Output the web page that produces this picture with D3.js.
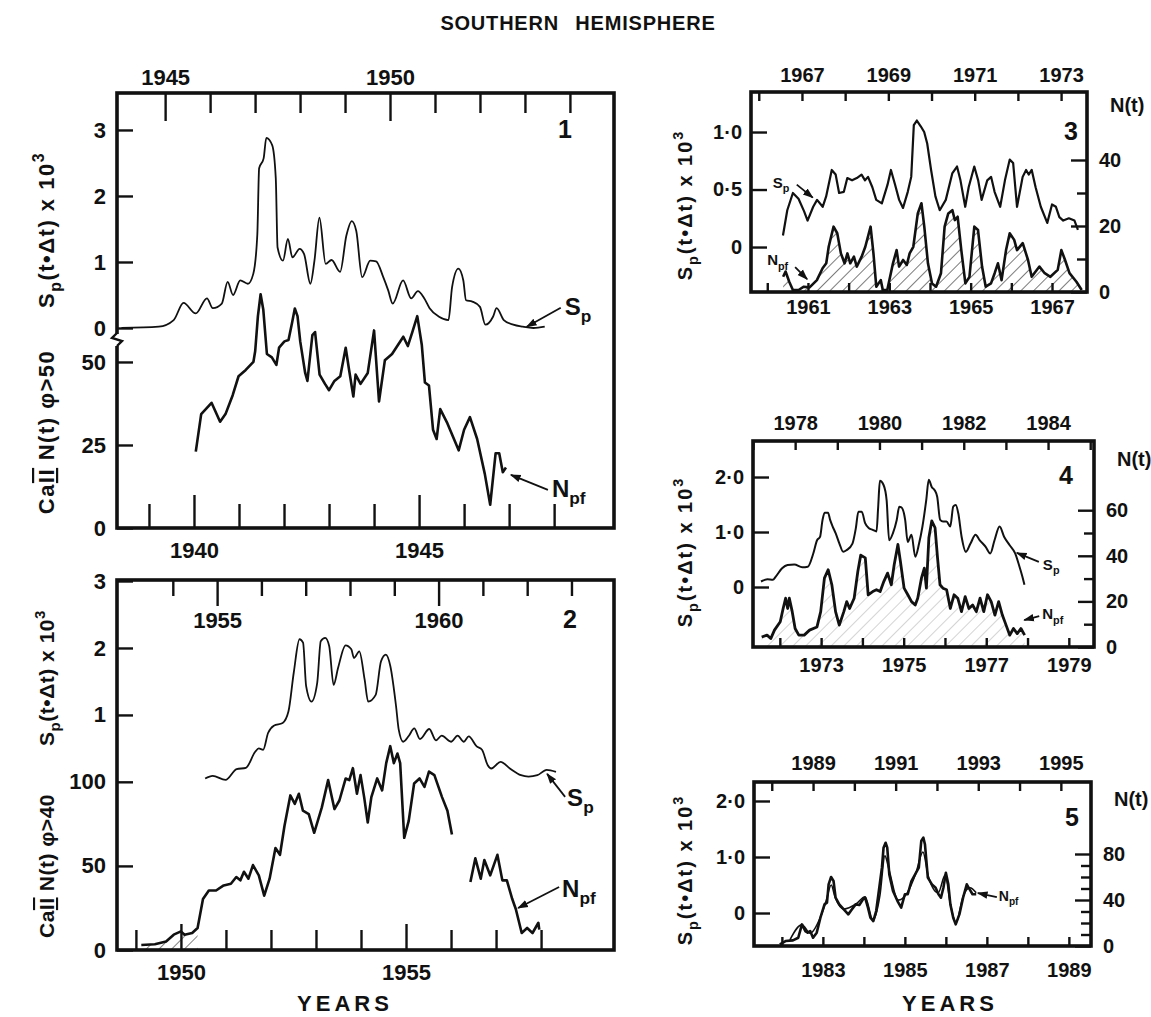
<!DOCTYPE html>
<html>
<head>
<meta charset="UTF-8">
<title>Southern Hemisphere</title>
<script src="https://cdn.jsdelivr.net/npm/d3@7"></script>
<style>
  body { margin: 0; background: #fff; }
  text { font-family: "Liberation Sans", Arial, sans-serif; font-weight: bold; fill: #111; }
</style>
</head>
<body>
<script>
var FONT = "Liberation Sans, Arial, sans-serif";

// ---- panel 1 : Sp on top years, N(t) on bottom years
var p1TopYears = [1945, 1946, 1947, 1948, 1949, 1950, 1951, 1952, 1953, 1954];
var p1TopLabels = [1945, 1950];
var p1BotYears = [1939, 1940, 1941, 1942, 1943, 1944, 1945, 1946, 1947, 1948];
var p1BotLabels = [1940, 1945];
var p1SpTicks = [0, 1, 2, 3];
var p1NTicks = [0, 25, 50];
var p1Sp = [[1944.03,0],[1944.86,0.02],[1945.19,0.12],[1945.41,0.38],[1945.68,0.22],[1945.93,0.45],[1946.06,0.30],[1946.26,0.37],[1946.39,0.70],[1946.51,0.50],[1946.67,0.72],[1946.84,0.67],[1946.96,0.82],[1947.05,1.42],[1947.09,2.42],[1947.19,2.57],[1947.25,2.88],[1947.38,2.77],[1947.46,2.27],[1947.50,1.22],[1947.62,1.02],[1947.73,1.35],[1947.83,1.07],[1947.99,1.20],[1948.09,1.12],[1948.23,0.67],[1948.32,1.02],[1948.43,1.67],[1948.57,0.97],[1948.70,1.03],[1948.89,0.85],[1949.03,1.40],[1949.15,1.62],[1949.25,1.47],[1949.38,0.77],[1949.56,1.02],[1949.69,1.01],[1949.85,0.77],[1949.96,0.57],[1950.06,0.37],[1950.29,0.72],[1950.47,0.45],[1950.62,0.56],[1950.76,0.45],[1950.88,0.30],[1951.09,0.17],[1951.30,0.12],[1951.38,0.62],[1951.52,0.90],[1951.63,0.72],[1951.69,0.42],[1951.83,0.40],[1952.00,0.32],[1952.12,0.05],[1952.29,0.17],[1952.37,0.30],[1952.53,0.12],[1952.74,0.05],[1952.95,0.02],[1953.19,0.00],[1953.44,0.02]];
var p1N = [[1940.04,23],[1940.16,34.3],[1940.39,37.7],[1940.58,32],[1940.70,34.3],[1940.86,40],[1940.99,45.7],[1941.15,47.6],[1941.32,50],[1941.36,53.3],[1941.42,63.8],[1941.48,70.4],[1941.54,65.7],[1941.62,52.4],[1941.73,51.4],[1941.83,49.1],[1941.89,54.3],[1942.01,56.2],[1942.10,56.6],[1942.18,61.9],[1942.24,66.1],[1942.30,63.8],[1942.36,56.2],[1942.47,46.7],[1942.52,44.3],[1942.63,58.1],[1942.69,59],[1942.79,46.2],[1942.91,43.4],[1943.00,41.5],[1943.12,44.3],[1943.25,45.7],[1943.37,54.3],[1943.45,47.2],[1943.54,39.6],[1943.59,46.2],[1943.70,43.4],[1943.86,46.7],[1944.00,59.5],[1944.11,38.1],[1944.24,50.5],[1944.40,52.4],[1944.65,57.6],[1944.75,54.8],[1944.85,59],[1944.96,63.8],[1945.06,55.2],[1945.13,43.8],[1945.22,42.9],[1945.31,29.6],[1945.39,26.8],[1945.47,35.8],[1945.63,31.5],[1945.88,23.4],[1946.00,29.6],[1946.13,33.4],[1946.29,26.8],[1946.46,16.3],[1946.58,7],[1946.70,22.5],[1946.78,22.5],[1946.86,16.8],[1946.93,18.2]];

// ---- panel 2
var p2TopYears = [1954, 1955, 1956, 1957, 1958, 1959, 1960, 1961, 1962, 1963];
var p2TopLabels = [1955, 1960];
var p2BotYears = [1949, 1950, 1951, 1952, 1953, 1954, 1955, 1956, 1957, 1958];
var p2BotLabels = [1950, 1955];
var p2SpTicks = [1, 2, 3];
var p2NTicks = [0, 50, 100];
var p2Sp = [[1954.73,0.05],[1954.90,0.09],[1955.19,0.03],[1955.44,0.19],[1955.65,0.21],[1955.86,0.45],[1955.94,0.50],[1956.04,0.48],[1956.15,0.73],[1956.28,0.84],[1956.48,0.88],[1956.61,1.05],[1956.73,1.63],[1956.86,2.13],[1956.94,2.08],[1957.01,1.43],[1957.13,1.20],[1957.26,1.48],[1957.34,2.10],[1957.44,2.15],[1957.53,2.03],[1957.63,1.45],[1957.73,1.70],[1957.90,2.04],[1958.03,1.98],[1958.09,1.85],[1958.21,1.95],[1958.33,1.53],[1958.41,1.20],[1958.58,1.30],[1958.70,1.80],[1958.81,1.90],[1958.91,1.73],[1959.04,1.13],[1959.10,0.78],[1959.20,0.60],[1959.33,0.69],[1959.45,0.80],[1959.58,0.64],[1959.79,0.79],[1959.94,0.62],[1960.07,0.69],[1960.28,0.60],[1960.43,0.69],[1960.57,0.60],[1960.68,0.68],[1960.86,0.53],[1960.98,0.48],[1961.11,0.25],[1961.19,0.20],[1961.40,0.30],[1961.61,0.20],[1961.86,0.10],[1962.03,0.08],[1962.23,0.10],[1962.44,0.18],[1962.65,0.15]];
var p2Na = [[1949.12,3],[1949.42,3.4],[1949.67,5.1],[1949.84,9.1],[1950.00,11.1],[1950.08,9.1],[1950.25,10.1],[1950.37,13.1],[1950.49,30.3],[1950.62,35.4],[1950.78,35.4],[1950.95,38.4],[1951.11,39.4],[1951.23,43.4],[1951.32,41.4],[1951.40,46.5],[1951.50,42.4],[1951.60,50.5],[1951.73,44.4],[1951.85,32.3],[1951.97,42.4],[1952.10,60.6],[1952.20,56.6],[1952.30,73.7],[1952.43,91.9],[1952.53,86.9],[1952.62,92.9],[1952.71,82.8],[1952.84,80.8],[1952.96,69.7],[1953.13,84.8],[1953.27,101],[1953.41,83.8],[1953.52,88.9],[1953.66,102],[1953.74,101],[1953.82,108.1],[1953.91,92.9],[1953.99,104],[1954.07,90.9],[1954.15,75.8],[1954.23,90.9],[1954.36,102],[1954.47,94.9],[1954.56,111.1],[1954.65,121.2],[1954.73,111.1],[1954.81,116.8],[1954.87,111.1],[1954.96,66.7],[1955.06,76.8],[1955.18,99],[1955.30,102],[1955.41,97],[1955.51,106.1],[1955.63,104],[1955.80,90.9],[1955.92,82.8],[1956.02,68.7]];
var p2Nb = [[1956.43,40.4],[1956.54,54.5],[1956.66,42.4],[1956.74,53.5],[1956.87,44.4],[1957.03,56.6],[1957.14,41.4],[1957.24,41.4],[1957.36,30.3],[1957.44,24.2],[1957.57,10.1],[1957.69,13.1],[1957.81,10.1],[1957.94,16.2],[1957.96,12.1]];

// ---- panel 3
var p3TopYears = [1966, 1967, 1968, 1969, 1970, 1971, 1972, 1973];
var p3TopLabels = [1967, 1969, 1971, 1973];
var p3BotYears = [1960, 1961, 1962, 1963, 1964, 1965, 1966, 1967];
var p3BotLabels = [1961, 1963, 1965, 1967];
var p3SpTicks = [0, 0.5, 1.0];
var p3NTicks = [0, 10, 20, 30, 40];
var p3NLabels = [0, 20, 40];
var p3Sp = [[1966.56,0.10],[1966.66,0.32],[1966.79,0.47],[1966.92,0.42],[1967.05,0.31],[1967.13,0.23],[1967.26,0.35],[1967.35,0.41],[1967.48,0.35],[1967.56,0.44],[1967.69,0.67],[1967.78,0.63],[1967.86,0.47],[1967.97,0.48],[1968.05,0.60],[1968.16,0.58],[1968.27,0.60],[1968.38,0.63],[1968.46,0.58],[1968.53,0.61],[1968.63,0.52],[1968.72,0.41],[1968.85,0.38],[1968.98,0.54],[1969.06,0.67],[1969.15,0.55],[1969.25,0.41],[1969.34,0.34],[1969.45,0.48],[1969.53,0.61],[1969.59,1.06],[1969.66,1.10],[1969.75,1.05],[1969.83,1.00],[1969.90,0.90],[1969.99,0.67],[1970.09,0.44],[1970.19,0.32],[1970.33,0.41],[1970.48,0.64],[1970.59,0.70],[1970.67,0.58],[1970.78,0.35],[1970.86,0.52],[1970.99,0.70],[1971.08,0.58],[1971.16,0.41],[1971.29,0.58],[1971.38,0.61],[1971.46,0.48],[1971.59,0.35],[1971.70,0.58],[1971.81,0.76],[1971.89,0.73],[1971.98,0.35],[1972.11,0.61],[1972.19,0.67],[1972.25,0.63],[1972.32,0.67],[1972.41,0.52],[1972.53,0.35],[1972.68,0.21],[1972.79,0.37],[1972.88,0.35],[1972.96,0.26],[1973.05,0.23],[1973.18,0.25],[1973.31,0.23],[1973.39,0.15]];
var p3N = [[1960.39,4.6],[1960.45,6.2],[1960.54,3.1],[1960.63,0.6],[1960.77,0.6],[1960.90,1.6],[1961.04,1.4],[1961.22,3.6],[1961.36,7.2],[1961.45,8.7],[1961.51,13.7],[1961.63,19.8],[1961.72,17.8],[1961.81,11.7],[1961.90,8.7],[1961.97,11.7],[1962.04,8.7],[1962.13,10.7],[1962.20,7.7],[1962.32,10.7],[1962.41,13.7],[1962.54,19.8],[1962.61,11.7],[1962.68,1.6],[1962.79,3.6],[1962.84,0.6],[1962.95,0.6],[1963.09,8.7],[1963.18,12.7],[1963.24,7.7],[1963.34,9.7],[1963.43,8.2],[1963.50,11.7],[1963.59,13.7],[1963.70,23.8],[1963.79,26.9],[1963.86,19.8],[1963.95,8.7],[1964.05,2.6],[1964.15,1.6],[1964.27,5.7],[1964.36,19.8],[1964.45,23.8],[1964.55,24.8],[1964.61,21.8],[1964.68,22.8],[1964.77,12.7],[1964.87,2.6],[1964.97,4.6],[1965.09,19.8],[1965.18,18.8],[1965.28,7.7],[1965.37,1.6],[1965.50,2.6],[1965.59,5.7],[1965.67,8.7],[1965.76,3.6],[1965.87,12.7],[1965.96,17.8],[1966.07,15.8],[1966.14,12.7],[1966.28,14.8],[1966.41,9.7],[1966.50,4.6],[1966.69,7.7],[1966.82,5.7],[1966.96,4.6],[1967.14,6.7],[1967.23,12.7],[1967.32,9.7],[1967.43,5.7],[1967.60,3.1],[1967.73,0.6]];

// ---- panel 4
var p4TopYears = [1977, 1978, 1979, 1980, 1981, 1982, 1983, 1984, 1985];
var p4TopLabels = [1978, 1980, 1982, 1984];
var p4BotYears = [1972, 1973, 1974, 1975, 1976, 1977, 1978, 1979];
var p4BotLabels = [1973, 1975, 1977, 1979];
var p4SpTicks = [0, 1.0, 2.0];
var p4NTicks = [0, 10, 20, 30, 40, 50, 60];
var p4NLabels = [0, 20, 40, 60];
var p4Sp = [[1977.19,0.10],[1977.34,0.14],[1977.47,0.13],[1977.54,0.19],[1977.69,0.34],[1977.82,0.40],[1977.98,0.41],[1978.17,0.36],[1978.30,0.37],[1978.43,0.61],[1978.52,0.85],[1978.59,0.91],[1978.65,1.22],[1978.70,1.35],[1978.78,1.35],[1978.83,1.22],[1978.89,1.10],[1978.96,0.98],[1979.05,0.79],[1979.14,0.64],[1979.22,0.67],[1979.36,0.79],[1979.44,1.07],[1979.50,1.37],[1979.58,1.37],[1979.66,1.16],[1979.75,1.07],[1979.84,1.04],[1979.93,1.01],[1979.97,1.46],[1980.01,1.93],[1980.10,1.85],[1980.17,1.58],[1980.23,0.85],[1980.32,0.98],[1980.41,1.22],[1980.47,1.46],[1980.52,1.45],[1980.61,1.22],[1980.67,0.82],[1980.76,0.95],[1980.85,0.55],[1980.94,0.79],[1981.02,1.10],[1981.11,1.58],[1981.17,1.95],[1981.24,1.82],[1981.31,1.76],[1981.37,1.64],[1981.44,1.22],[1981.51,1.19],[1981.59,1.19],[1981.68,1.10],[1981.75,1.46],[1981.81,1.49],[1981.87,1.34],[1981.95,0.91],[1982.05,0.64],[1982.16,0.79],[1982.28,0.95],[1982.38,0.85],[1982.52,0.73],[1982.63,0.61],[1982.73,0.85],[1982.85,1.10],[1982.96,0.91],[1983.09,0.76],[1983.22,0.61],[1983.31,0.40],[1983.39,0.19],[1983.44,0.04]];
var p4N = [[1971.56,4.4],[1971.69,5.2],[1971.78,3.7],[1971.87,7.4],[1972.01,11.1],[1972.08,16.9],[1972.14,21.4],[1972.19,16.9],[1972.23,21.4],[1972.30,15.5],[1972.37,8.1],[1972.46,5.2],[1972.59,5.2],[1972.72,7.4],[1972.90,8.8],[1972.99,15.5],[1973.08,30.2],[1973.17,33.9],[1973.26,27.3],[1973.35,15.5],[1973.44,9.6],[1973.55,15.5],[1973.62,19.9],[1973.69,16.9],[1973.80,21.4],[1973.89,33.2],[1973.96,40.3],[1974.07,39.1],[1974.14,22.9],[1974.25,24.3],[1974.34,25.1],[1974.43,24.3],[1974.52,28.8],[1974.61,32.4],[1974.70,27.3],[1974.77,36.1],[1974.86,45],[1974.92,37.6],[1975.01,25.8],[1975.10,22.9],[1975.19,19.9],[1975.28,18.4],[1975.34,21.4],[1975.43,30.2],[1975.50,34.6],[1975.55,25.8],[1975.61,47.9],[1975.68,55.3],[1975.76,52.3],[1975.82,39.1],[1975.88,27.3],[1975.95,25.8],[1976.04,25.1],[1976.13,16.9],[1976.22,22.9],[1976.31,21.4],[1976.40,15.5],[1976.49,22.1],[1976.58,16.9],[1976.67,18.4],[1976.76,15.5],[1976.85,21.4],[1976.94,15.5],[1977.03,22.9],[1977.12,19.9],[1977.21,14],[1977.30,19.9],[1977.39,14],[1977.48,9.6],[1977.57,5.2],[1977.66,8.1],[1977.75,5.9],[1977.84,8.1],[1977.93,5.2]];

// ---- panel 5
var p5TopYears = [1988, 1989, 1990, 1991, 1992, 1993, 1994, 1995];
var p5TopLabels = [1989, 1991, 1993, 1995];
var p5BotYears = [1982, 1983, 1984, 1985, 1986, 1987, 1988, 1989];
var p5BotLabels = [1983, 1985, 1987, 1989];
var p5SpTicks = [0, 1.0, 2.0];
var p5NTicks = [0, 10, 20, 30, 40, 50, 60, 70, 80];
var p5NLabels = [0, 40, 80];
var p5Sp = [[1988.44,-0.48],[1988.73,-0.21],[1988.93,-0.36],[1989.17,-0.09],[1989.31,0.20],[1989.44,0.50],[1989.53,0.29],[1989.75,0.07],[1990.04,0.16],[1990.26,0.29],[1990.45,-0.13],[1990.62,0.32],[1990.74,1.02],[1990.84,0.77],[1991.06,0.23],[1991.28,0.36],[1991.49,0.71],[1991.66,1.09],[1991.79,0.66],[1992.03,0.36],[1992.20,0.68],[1992.32,0.18],[1992.46,-0.18],[1992.63,0.29],[1992.80,0.45],[1992.95,0.36]];
var p5N = [[1981.95,1.4],[1982.09,4.3],[1982.27,4.9],[1982.40,7.2],[1982.49,18.8],[1982.57,13],[1982.63,11.6],[1982.69,13],[1982.76,7.2],[1982.85,11.6],[1982.94,24.6],[1983.04,36.2],[1983.10,37.7],[1983.14,53.6],[1983.20,60],[1983.26,56.5],[1983.31,42],[1983.40,36.2],[1983.51,31.9],[1983.62,27.5],[1983.71,31.9],[1983.80,36.2],[1983.89,35.7],[1983.98,40.6],[1984.03,42],[1984.10,33.3],[1984.16,24.6],[1984.23,21.7],[1984.30,30.4],[1984.37,49.3],[1984.44,68.1],[1984.48,85.5],[1984.53,89.8],[1984.57,85.5],[1984.62,62.3],[1984.71,47.8],[1984.82,39.1],[1984.91,33.3],[1985.00,45],[1985.07,45],[1985.16,56.5],[1985.25,62.3],[1985.34,68.1],[1985.40,91.3],[1985.45,94.2],[1985.49,88.4],[1985.56,59.4],[1985.66,53.6],[1985.75,50.7],[1985.82,45],[1985.88,42],[1985.94,50.7],[1986.00,63.7],[1986.06,53.6],[1986.11,36.2],[1986.18,24.6],[1986.24,18.8],[1986.33,27.5],[1986.42,42],[1986.51,53.6],[1986.58,49.3],[1986.65,45],[1986.74,45]];

// frame boxes [x0, y0, x1, y1] and scale domains
var layout = {
  p1: { box: [117, 93, 614, 528], top: [1943.93, 1954.98], bot: [1938.29, 1949.33], sp: [-3.03, 3.56], n: [0, 131] },
  p2: { box: [117, 580, 614, 950], top: [1952.74, 1963.96], bot: [1948.58, 1959.62], sp: [-2.51, 3.015], n: [0, 220] },
  p3: { box: [751, 92, 1087, 292], top: [1965.82, 1973.60], bot: [1959.60, 1967.86], sp: [-0.391, 1.348], n: [0, 60.6] },
  p4: { box: [753, 441, 1094, 647], top: [1977.00, 1985.09], bot: [1971.35, 1979.61], sp: [-1.091, 2.655], n: [0, 90.35] },
  p5: { box: [754, 782, 1091, 946], top: [1987.57, 1995.73], bot: [1981.32, 1989.54], sp: [-0.589, 2.339], n: [0, 142.6] }
};

var svg = d3.select("body").append("svg")
    .attr("width", 1151)
    .attr("height", 1017);

var defs = svg.append("defs");
defs.append("pattern")
    .attr("id", "hatch")
    .attr("patternUnits", "userSpaceOnUse")
    .attr("width", 9).attr("height", 9)
    .attr("patternTransform", "rotate(45)")
  .append("line")
    .attr("x1", 0).attr("y1", 0).attr("x2", 0).attr("y2", 9)
    .attr("stroke", "#111").attr("stroke-width", 1.3);
defs.append("marker")
    .attr("id", "arr")
    .attr("viewBox", "0 0 10 10")
    .attr("refX", 9).attr("refY", 5)
    .attr("markerWidth", 6).attr("markerHeight", 6)
    .attr("orient", "auto")
  .append("path")
    .attr("d", "M0,1.5L10,5L0,8.5Z")
    .attr("fill", "#111");

function makePanel(L) {
    var b = L.box;
    return {
        x0: b[0], y0: b[1], x1: b[2], y1: b[3],
        xT: d3.scaleLinear().domain(L.top).range([b[0], b[2]]),
        xB: d3.scaleLinear().domain(L.bot).range([b[0], b[2]]),
        yS: d3.scaleLinear().domain(L.sp).range([b[3], b[1]]),
        yN: d3.scaleLinear().domain(L.n).range([b[3], b[1]])
    };
}

function axis(p, side, scale, vals, len, fmt, fs, pad) {
    var ax, tr;
    if (side == "top") { ax = d3.axisTop(scale); tr = "translate(0," + p.y0 + ")"; }
    if (side == "bottom") { ax = d3.axisBottom(scale); tr = "translate(0," + p.y1 + ")"; }
    if (side == "left") { ax = d3.axisLeft(scale); tr = "translate(" + p.x0 + ",0)"; }
    if (side == "right") { ax = d3.axisRight(scale); tr = "translate(" + p.x1 + ",0)"; }
    ax.tickValues(vals).tickSize(-len).tickPadding(pad).tickFormat(fmt || function () { return ""; });
    var g = svg.append("g").attr("transform", tr).call(ax);
    g.select(".domain").remove();
    g.attr("font-size", fs).attr("font-family", FONT).attr("font-weight", "bold");
    g.selectAll(".tick line").attr("stroke", "#111").attr("stroke-width", 2.4);
    g.selectAll(".tick text").attr("fill", "#111");
    return g;
}

function pick(labels, f) {
    return function (d) { return labels.indexOf(d) >= 0 ? (f ? f(d) : d) : ""; };
}
function dotFmt(d) { return d === 0 ? "0" : d3.format(".1f")(d).replace(".", "\u00b7"); }

function frame(p) {
    svg.append("rect")
        .attr("x", p.x0).attr("y", p.y0)
        .attr("width", p.x1 - p.x0).attr("height", p.y1 - p.y0)
        .attr("fill", "none").attr("stroke", "#111").attr("stroke-width", 3.6);
}

function curve(p, xs, ys, data, w, smooth) {
    var ln = d3.line()
        .x(function (d) { return xs(d[0]); })
        .y(function (d) { return ys(d[1]); })
        .curve(smooth ? d3.curveMonotoneX : d3.curveLinear);
    svg.append("path").datum(data)
        .attr("d", ln)
        .attr("fill", "none").attr("stroke", "#111")
        .attr("stroke-width", w).attr("stroke-linejoin", "round");
}

function hatch(p, data, op) {
    var ar = d3.area()
        .x(function (d) { return p.xB(d[0]); })
        .y0(p.yN(0))
        .y1(function (d) { return p.yN(d[1]); });
    svg.append("path").datum(data)
        .attr("d", ar)
        .attr("fill", "url(#hatch)").attr("opacity", op || 1);
}

// text with sub/superscript parts: [[string, "sub"|"sup"|"bar"|null], ...]
function rich(sel, parts, fs) {
    var shift = 0;
    parts.forEach(function (pt) {
        var t = sel.append("tspan").text(pt[0]);
        var want = 0;
        if (pt[1] == "sub") { want = 0.3 * fs; t.attr("font-size", 0.72 * fs); }
        if (pt[1] == "sup") { want = -0.45 * fs; t.attr("font-size", 0.72 * fs); }
        if (pt[1] == "bar") { t.style("text-decoration", "overline underline"); }
        if (want != shift) { t.attr("dy", want - shift); shift = want; }
    });
    return sel;
}

function annot(xs, ys, tip, tail, txt, parts, fs) {
    var tx = xs(tip[0]), ty = ys(tip[1]);
    svg.append("line")
        .attr("x1", tx + tail[0]).attr("y1", ty + tail[1])
        .attr("x2", tx).attr("y2", ty)
        .attr("stroke", "#111").attr("stroke-width", 1.8)
        .attr("marker-end", "url(#arr)");
    var t = svg.append("text")
        .attr("x", tx + txt[0]).attr("y", ty + txt[1])
        .attr("font-size", fs);
    rich(t, parts, fs);
}

function vlabel(x, y, parts, fs, ls) {
    var t = svg.append("text")
        .attr("transform", "translate(" + x + "," + y + ") rotate(-90)")
        .attr("text-anchor", "middle")
        .attr("font-size", fs)
        .attr("letter-spacing", ls);
    rich(t, parts, fs);
}

function panelNo(x, y, s) {
    svg.append("text").attr("x", x).attr("y", y)
        .attr("font-size", 25).attr("text-anchor", "middle").text(s);
}

// title
svg.append("text")
    .attr("x", 578).attr("y", 30)
    .attr("text-anchor", "middle")
    .attr("font-size", 20).attr("font-weight", "normal")
    .attr("letter-spacing", 0.8).attr("word-spacing", 10)
    .text("SOUTHERN HEMISPHERE");

var spLabel = [["S"], ["p", "sub"], ["(t\u2022\u0394t) x 10"], ["3", "sup"]];

// ---------------- panel 1
var P1 = makePanel(layout.p1);
axis(P1, "top", P1.xT, p1TopYears.filter(function (d) { return p1TopLabels.indexOf(d) < 0; }), 20, null, 22, 8);
axis(P1, "top", P1.xT, p1TopLabels, 28, pick(p1TopLabels), 22, 8);
axis(P1, "bottom", P1.xB, p1BotYears.filter(function (d) { return p1BotLabels.indexOf(d) < 0; }), 24, null, 22, 14);
axis(P1, "bottom", P1.xB, p1BotLabels, 33, pick(p1BotLabels), 22, 14);
axis(P1, "left", P1.yS, p1SpTicks, 16, pick(p1SpTicks), 22, 11);
axis(P1, "left", P1.yN, p1NTicks, 16, pick(p1NTicks), 22, 11);
curve(P1, P1.xT, P1.yS, p1Sp, 1.8, true);
curve(P1, P1.xB, P1.yN, p1N, 2.6, false);
frame(P1);
// axis break on the left edge
svg.append("rect").attr("x", P1.x0 - 4).attr("y", 334).attr("width", 8).attr("height", 12).attr("fill", "#fff");
svg.append("path").attr("d", "M" + P1.x0 + ",333 l-5,5 l10,3 l-5,5")
    .attr("fill", "none").attr("stroke", "#111").attr("stroke-width", 2.4);
panelNo(565, 138, "1");
annot(P1.xT, P1.yS, [1953.04, 0.02], [34, -19], [38, -12], [["S"], ["p", "sub"]], 24);
annot(P1.xB, P1.yN, [1947.04, 16], [37, 15], [41, 22], [["N"], ["pf", "sub"]], 24);
vlabel(54, 432, [["Ca"], ["II", "bar"], [" N(t) \u03c6>50"]], 22, 1.5);
vlabel(54, 230, spLabel, 22, 1.5);

// ---------------- panel 2
var P2 = makePanel(layout.p2);
axis(P2, "top", P2.xT, p2TopYears.filter(function (d) { return p2TopLabels.indexOf(d) < 0; }), 16, null, 22, 8);
axis(P2, "top", P2.xT, p2TopLabels, 26, pick(p2TopLabels), 22, -48);
axis(P2, "bottom", P2.xB, p2BotYears.filter(function (d) { return p2BotLabels.indexOf(d) < 0; }), 20, null, 22, 14);
axis(P2, "bottom", P2.xB, p2BotLabels, 26, pick(p2BotLabels), 22, 14);
axis(P2, "left", P2.yS, p2SpTicks, 16, pick(p2SpTicks), 22, 11);
axis(P2, "left", P2.yN, p2NTicks, 16, pick(p2NTicks), 22, 11);
hatch(P2, p2Na.filter(function (d) { return d[0] <= 1950.4; }), 0.8);
curve(P2, P2.xT, P2.yS, p2Sp, 1.8, true);
curve(P2, P2.xB, P2.yN, p2Na, 2.6, false);
curve(P2, P2.xB, P2.yN, p2Nb, 2.6, false);
frame(P2);
panelNo(570, 628, "2");
annot(P2.xT, P2.yS, [1962.45, 0.12], [18, 23], [20, 32], [["S"], ["p", "sub"]], 24);
annot(P2.xB, P2.yN, [1957.49, 25], [41, -21], [44, -11], [["N"], ["pf", "sub"]], 24);
vlabel(54, 866, [["Ca"], ["II", "bar"], [" N(t) \u03c6>40"]], 21, 0.5);
vlabel(54, 678, spLabel, 21, 0.5);

svg.append("text").attr("x", 345).attr("y", 1011).attr("text-anchor", "middle")
    .attr("font-size", 22).attr("font-weight", "normal").attr("letter-spacing", 4).text("YEARS");

// ---------------- right panels
function rightPanel(P, top, topL, bot, botL, spT, nT, nL, tpad, bpad) {
    axis(P, "top", P.xT, top, 9, pick(topL), 20, tpad);
    axis(P, "bottom", P.xB, bot, 9, pick(botL), 20, bpad);
    axis(P, "left", P.yS, spT, 16, pick(spT, dotFmt), 20, 9);
    axis(P, "right", P.yN, nT.filter(function (d) { return nL.indexOf(d) < 0; }), 10, null, 20, 12);
    axis(P, "right", P.yN, nL, 16, pick(nL), 20, 12);
}

var P3 = makePanel(layout.p3);
rightPanel(P3, p3TopYears, p3TopLabels, p3BotYears, p3BotLabels, p3SpTicks, p3NTicks, p3NLabels, 10, 8);
hatch(P3, p3N, 0.85);
curve(P3, P3.xT, P3.yS, p3Sp, 2.2, false);
curve(P3, P3.xB, P3.yN, p3N, 2.6, false);
frame(P3);
panelNo(1071, 140, "3");
annot(P3.xT, P3.yS, [1967.25, 0.43], [-16, -13], [-40, -10], [["S"], ["p", "sub"]], 15);
annot(P3.xB, P3.yN, [1960.98, 3.9], [-12, -12], [-40, -14], [["N"], ["pf", "sub"]], 15);

var P4 = makePanel(layout.p4);
rightPanel(P4, p4TopYears, p4TopLabels, p4BotYears, p4BotLabels, p4SpTicks, p4NTicks, p4NLabels, 11, 11);
hatch(P4, p4N, 0.28);
curve(P4, P4.xT, P4.yS, p4Sp, 2, true);
curve(P4, P4.xB, P4.yN, p4N, 2.8, false);
frame(P4);
panelNo(1066, 484, "4");
annot(P4.xT, P4.yS, [1983.26, 0.62], [22, 9], [26, 17], [["S"], ["p", "sub"]], 15);
annot(P4.xB, P4.yN, [1977.92, 11.8], [15, -4], [18, -1], [["N"], ["pf", "sub"]], 15);

var P5 = makePanel(layout.p5);
rightPanel(P5, p5TopYears, p5TopLabels, p5BotYears, p5BotLabels, p5SpTicks, p5NTicks, p5NLabels, 12, 17);
curve(P5, P5.xT, P5.yS, p5Sp, 1.6, true);
curve(P5, P5.xB, P5.yN, p5N, 2.6, false);
frame(P5);
panelNo(1072, 826, "5");
annot(P5.xB, P5.yN, [1986.78, 46], [19, 4], [21, 8], [["N"], ["pf", "sub"]], 14);

[[P3, 112], [P4, 466], [P5, 806]].forEach(function (q) {
    svg.append("text").attr("x", q[0].x1 + 23).attr("y", q[1]).attr("font-size", 20).text("N(t)");
});
vlabel(692, 205, spLabel, 20, 2);
vlabel(692, 552, spLabel, 20, 2);
vlabel(692, 870, spLabel, 20, 2);

svg.append("text").attr("x", 950).attr("y", 1011).attr("text-anchor", "middle")
    .attr("font-size", 22).attr("font-weight", "normal").attr("letter-spacing", 4).text("YEARS");
</script>
</body>
</html>
